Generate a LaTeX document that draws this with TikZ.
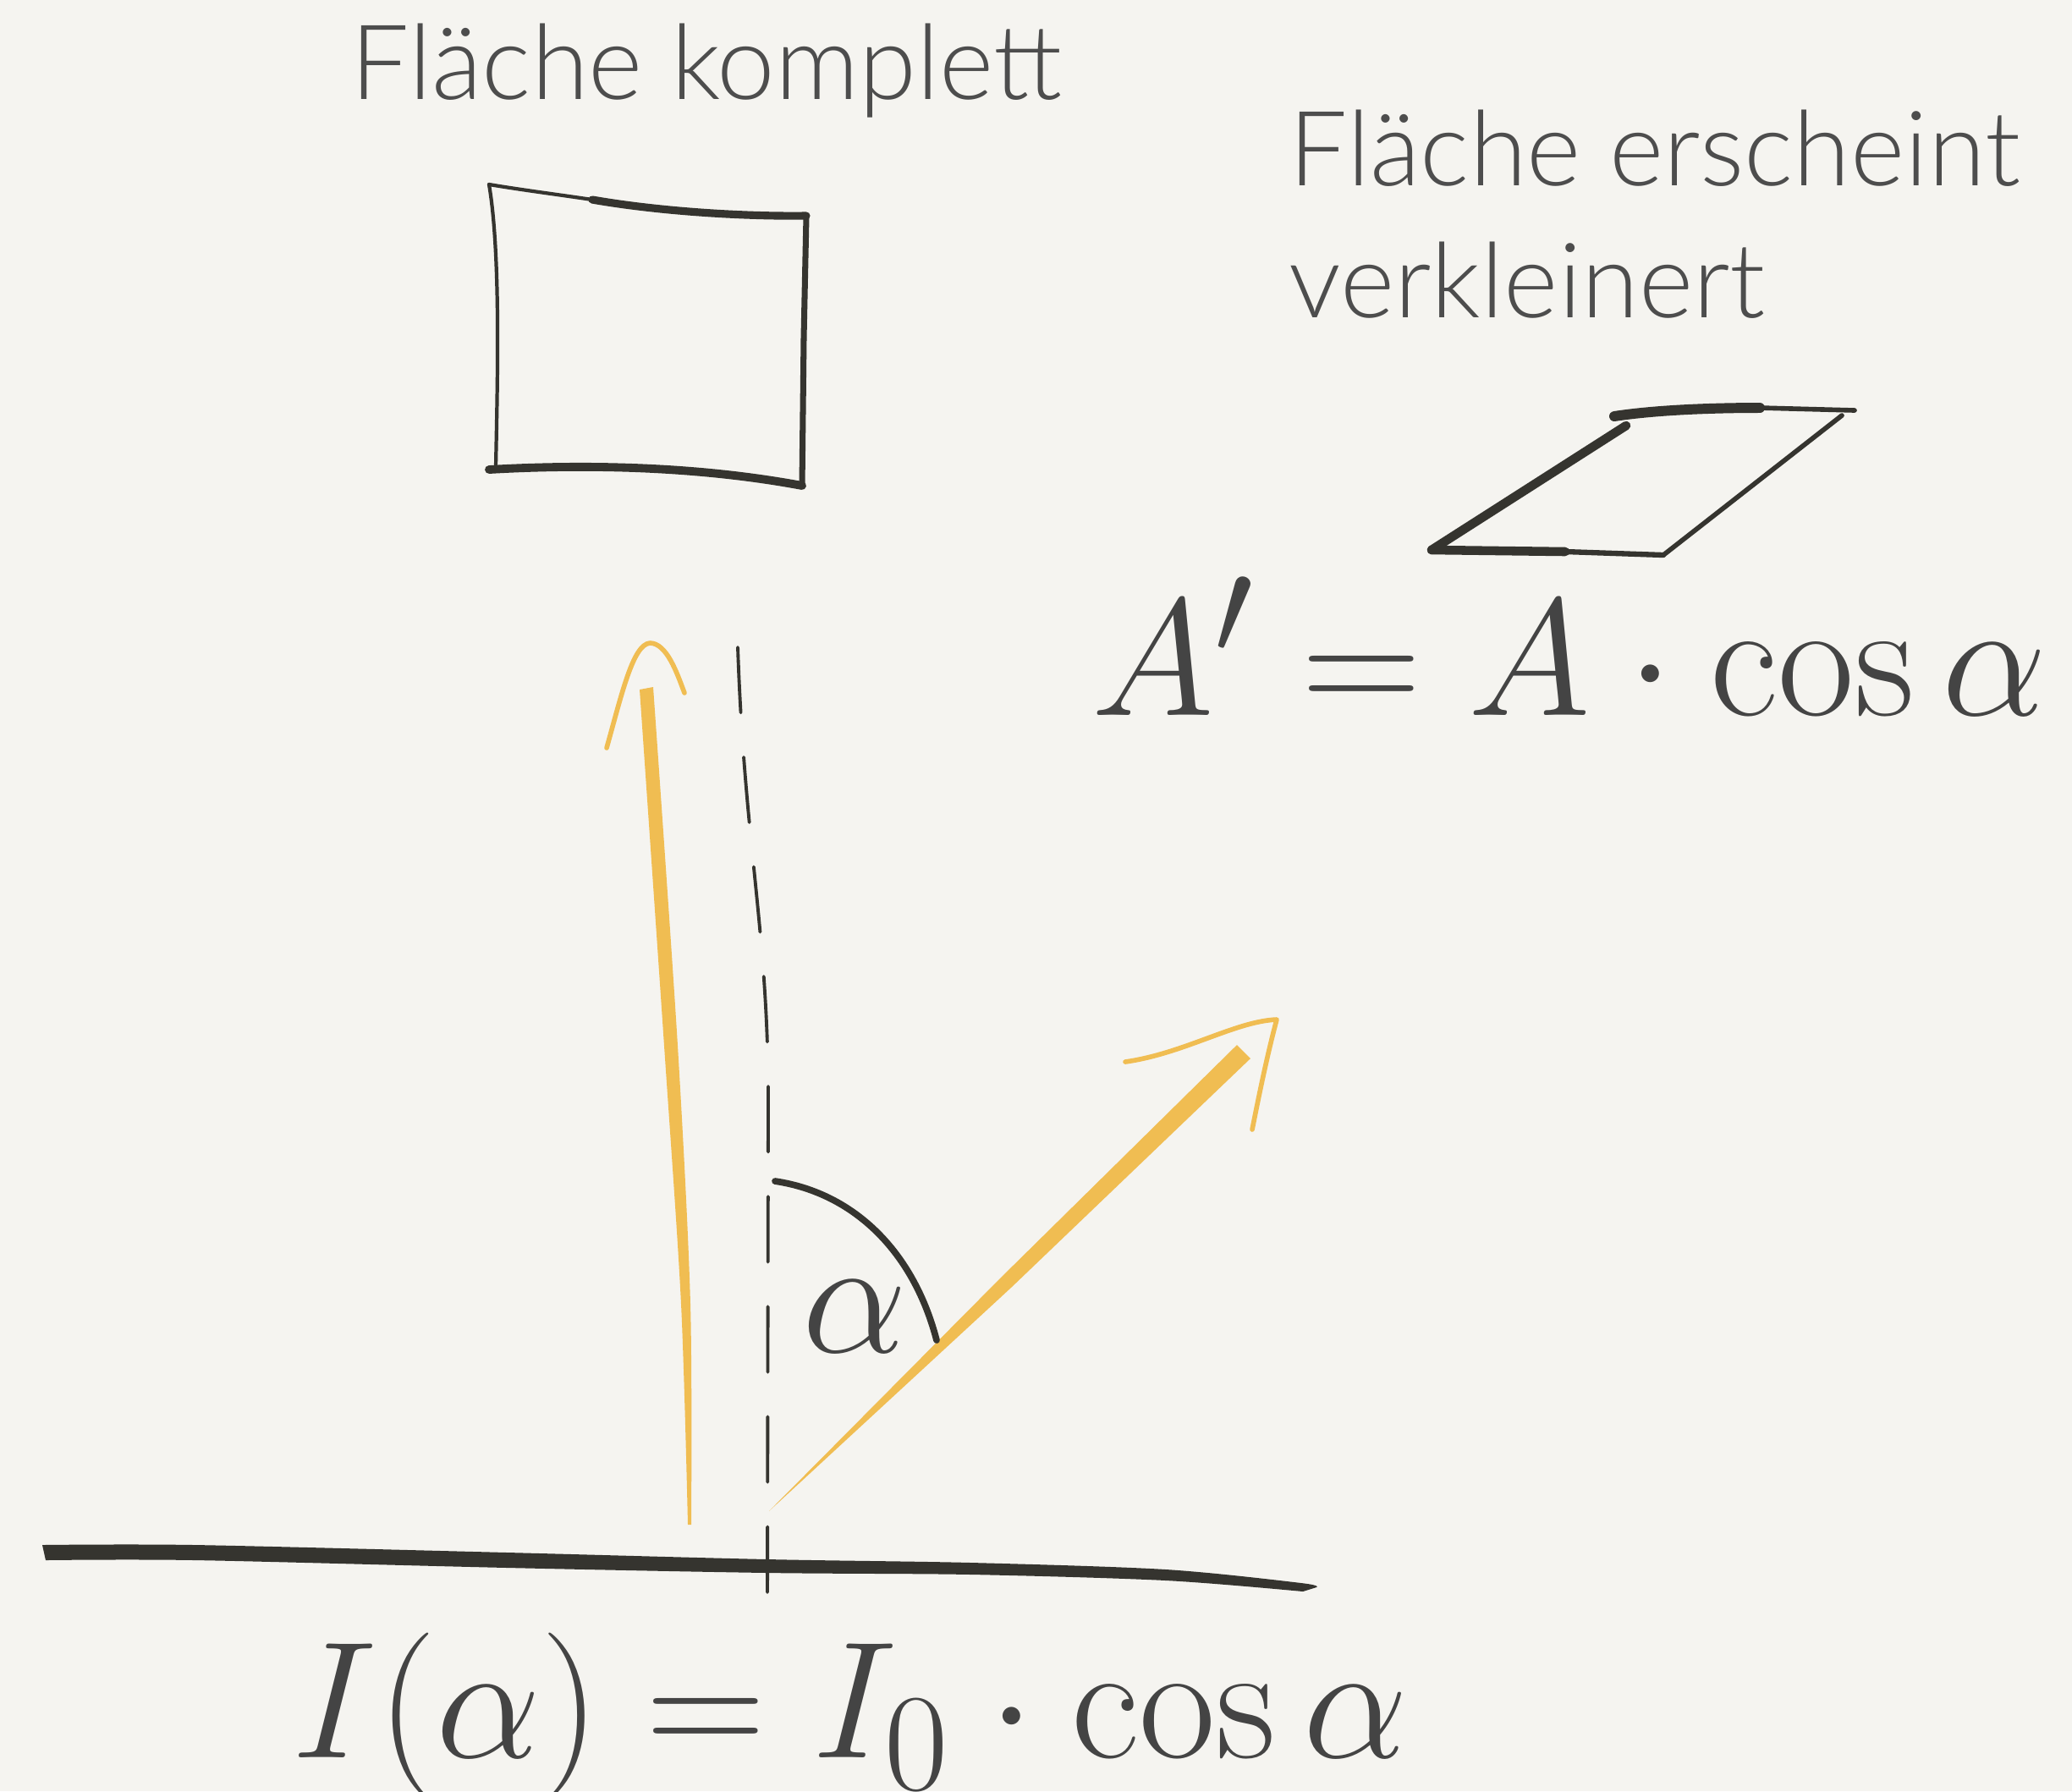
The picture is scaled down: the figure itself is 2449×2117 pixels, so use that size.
\documentclass[tikz,border=0pt]{standalone}
\usepackage{fontspec}
\newfontfamily\labelfont{Lato}[UprightFont={* Light}]
\usepackage{tikz}
\usetikzlibrary{positioning}

\definecolor{paper}{HTML}{F5F4F0}
\definecolor{ink}{HTML}{35342F}
\definecolor{sun}{HTML}{F0BD52}
\definecolor{txt}{HTML}{4D4D4D}
\definecolor{mathink}{HTML}{444444}

\tikzset{
  ink line/.style={draw=ink,line cap=round,line join=round},
  sun line/.style={draw=sun,line cap=round,line join=round},
  label text/.style={font=\labelfont\fontsize{35}{40}\selectfont,text=txt,inner sep=0pt,anchor=base west},
  formel/.style={font=\Huge,scale=2.25,text=mathink,inner sep=0pt}
}

\begin{document}
\begin{tikzpicture}[x=0.01cm,y=-0.01cm]

\fill[paper] (0,0) rectangle (2449,2117);
\clip (0,0) rectangle (2449,2117);

% Labels
\node[label text] (komplett) at (414,117) {Fläche komplett};
\node[label text] (erscheint) at (1523,219) {Fläche erscheint};
\node[label text] (verkl) at (1523,375) {verkleinert};

% Full area
\coordinate (q1) at (578,218);
\coordinate (q2) at (953,255);
\coordinate (q3) at (948,574);
\coordinate (q4) at (578,555);
\draw[ink line,line width=1.2pt] (q1) .. controls (592,300) and (588,450) .. (586,552);
\draw[ink line,line width=1.2pt] (q1) .. controls (620,225) and (660,230) .. (700,236);
\draw[ink line,line width=2.6pt] (700,236) .. controls (780,250) and (880,256) .. (q2);
\draw[ink line,line width=2pt] (q2) -- (950,400) -- (q3);
\draw[ink line,line width=2.8pt] (q4) .. controls (700,548) and (830,552) .. (q3);

% Tilted area
\coordinate (p1) at (1908,492);
\coordinate (p2) at (2192,485);
\coordinate (p3) at (1966,656);
\coordinate (p4) at (1692,650);
\draw[ink line,line width=3.4pt] (p1) .. controls (1960,484) and (2030,482) .. (2080,482);
\draw[ink line,line width=1.6pt] (2080,482) -- (p2);
\draw[ink line,line width=3pt] (1922,503) -- (p4);
\draw[ink line,line width=3pt] (p4) -- (1850,652);
\draw[ink line,line width=1.8pt] (1850,652) -- (p3);
\draw[ink line,line width=1.6pt] (2177,491) -- (p3);

% Formulas
\node[formel,anchor=base west] (flaeche) at (1289,845) {$A' = A\cdot\cos\alpha$};
\node[formel,anchor=base west] (intens) at (344,2077) {$I(\alpha) = I_0\cdot\cos\alpha$};

% Normal
\draw[ink,line width=1.1pt,line cap=round,dash pattern=on 22pt off 15pt]
  (872,765) .. controls (880,1000) and (908,1100) .. (908,1300) -- (907,1898);

% Vertical ray
\coordinate (vfuss) at (815,1802);
\coordinate (vspitze) at (768,760);
\fill[sun] plot[smooth] coordinates {(756,815) (785,1236) (805,1541) (813,1802)}
  -- plot[smooth] coordinates {(817,1802) (816,1541) (801,1236) (772,812)} -- cycle;
\draw[sun line,line width=1.6pt] (717,884) .. controls (735,820) and (748,762) .. (vspitze)
  .. controls (788,760) and (800,795) .. (809,819);

% Tilted ray
\coordinate (dfuss) at (909,1786);
\coordinate (dspitze) at (1509,1205);
\fill[sun] (dfuss) -- (1184,1509) -- (1462,1235) -- (1478,1251) -- (1196,1521) -- cycle;
\draw[sun line,line width=1.6pt] (1330,1255) .. controls (1400,1245) and (1460,1207) .. (dspitze)
  .. controls (1497,1250) and (1488,1295) .. (1480,1335);

% Angle
\draw[ink line,line width=2.2pt] (916,1396) .. controls (1010,1410) and (1080,1480) .. (1107,1584);
\node[formel] (winkel) at (1010,1556) {$\alpha$};

% Surface
\fill[ink] plot[smooth] coordinates {(50,1826) (230,1826) (600,1835) (907,1843) (1148,1847) (1378,1855)
  (1538,1871) (1556,1876)} -- plot[smooth] coordinates {(1540,1881) (1378,1868) (1148,1861) (907,1859)
  (600,1853) (230,1844) (54,1844)} -- cycle;

\end{tikzpicture}
\end{document}
